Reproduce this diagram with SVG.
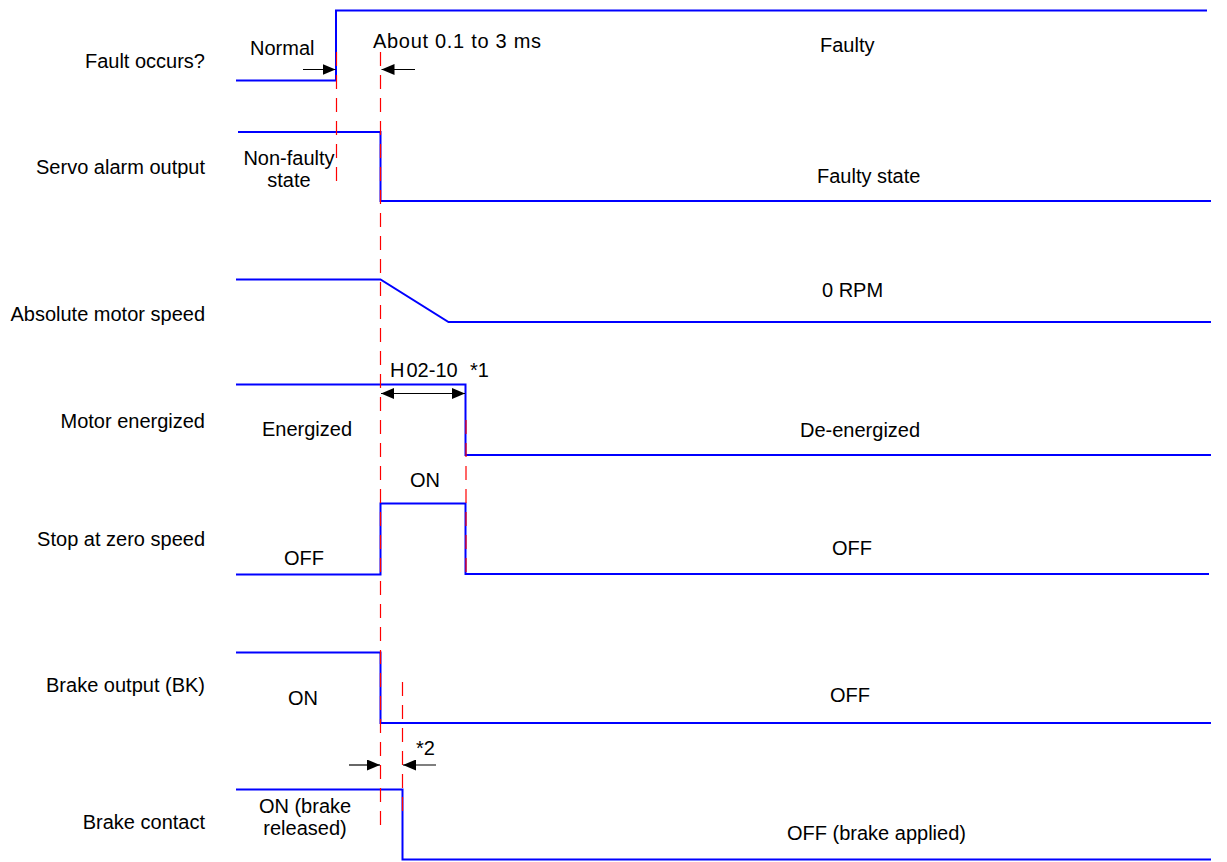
<svg xmlns="http://www.w3.org/2000/svg" width="1227" height="862" viewBox="0 0 1227 862">
<style>
text{font-family:"Liberation Sans",Arial,sans-serif;font-size:20px;fill:#000}
.lbl{text-anchor:end}
.sig{fill:none;stroke:#0000ff;stroke-width:2}
.dash{fill:none;stroke:#ff0000;stroke-width:1.2;stroke-dasharray:14 9}
.dim{fill:none;stroke:#000;stroke-width:1.2}
</style>
<defs>
<marker id="ah" viewBox="0 0 13 11" refX="13" refY="5.5" markerWidth="13" markerHeight="11" markerUnits="userSpaceOnUse" orient="auto-start-reverse">
<path d="M0,0 L13,5.5 L0,11 Z" fill="#000"/>
</marker>
</defs>
<rect width="1227" height="862" fill="#fff"/>
<g id="row-fault">
<text class="lbl" x="205" y="68">Fault occurs?</text>
<path class="sig" d="M236,80.5 H336 V10.5 H1207"/>
<text x="250" y="55">Normal</text>
<text x="373" y="48" textLength="168" lengthAdjust="spacing">About 0.1 to 3 ms</text>
<text x="820" y="52">Faulty</text>
</g>
<g id="row-alarm">
<text class="lbl" x="205" y="174">Servo alarm output</text>
<path class="sig" d="M238,132 H380.5 V201 H1211"/>
<text x="289" y="165" text-anchor="middle">Non-faulty</text>
<text x="289" y="187" text-anchor="middle">state</text>
<text x="817" y="183">Faulty state</text>
</g>
<g id="row-speed">
<text class="lbl" x="205" y="321">Absolute motor speed</text>
<path class="sig" d="M236,279.5 H380.5 L448.5,322 H1211"/>
<text x="822" y="297">0 RPM</text>
</g>
<g id="row-motor">
<text class="lbl" x="205" y="428">Motor energized</text>
<path class="sig" d="M236,384.5 H465.5 V455 H1211"/>
<text x="390" y="377">H</text>
<text x="406.5" y="377">02-10</text>
<text x="470" y="377">*1</text>
<text x="262" y="436">Energized</text>
<text x="800" y="437">De-energized</text>
</g>
<g id="row-stop">
<text class="lbl" x="205" y="546">Stop at zero speed</text>
<path class="sig" d="M236,574.5 H380.5 V503.5 H465.5 V574 H1209"/>
<text x="410" y="487">ON</text>
<text x="284" y="565">OFF</text>
<text x="832" y="555">OFF</text>
</g>
<g id="row-brake">
<text class="lbl" x="205" y="692">Brake output (BK)</text>
<path class="sig" d="M236,652.5 H380.5 V723 H1211"/>
<text x="288" y="705">ON</text>
<text x="830" y="702">OFF</text>
</g>
<g id="row-contact">
<text class="lbl" x="205" y="829">Brake contact</text>
<path class="sig" d="M236,789.5 H402.5 V859.5 H1211"/>
<text x="305" y="813" text-anchor="middle">ON (brake</text>
<text x="305" y="835" text-anchor="middle">released)</text>
<text x="787" y="840">OFF (brake applied)</text>
<text x="416" y="755">*2</text>
</g>
<g id="connectors">
<path class="dash" d="M336.5,52 V187"/>
<path class="dash" d="M380.5,52 V834"/>
<path class="dash" d="M466,420 V578"/>
<path class="dash" d="M402.5,682 V817"/>
<path class="dim" d="M303,69.5 H335.5" marker-end="url(#ah)"/>
<path class="dim" d="M415,69.5 H381.5" marker-end="url(#ah)"/>
<path class="dim" d="M381,393.5 H465" marker-start="url(#ah)" marker-end="url(#ah)"/>
<path class="dim" d="M349,765 H380" marker-end="url(#ah)"/>
<path class="dim" d="M436,765 H403" marker-end="url(#ah)"/>
</g>
</svg>
